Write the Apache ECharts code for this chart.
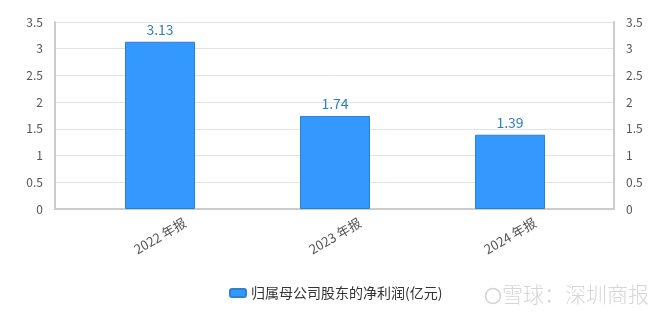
<!DOCTYPE html>
<html><head><meta charset="utf-8">
<script src="https://cdn.jsdelivr.net/npm/echarts@6/dist/echarts.min.js"></script>
<style>html,body{margin:0;padding:0;background:#fff}#c{width:668px;height:313px}</style>
</head><body><div id="c"></div>
<script>
var categories = ['2022 年报', '2023 年报', '2024 年报'];
var netProfit = [3.13, 1.74, 1.39];
var yTicks = [0, 0.5, 1, 1.5, 2, 2.5, 3, 3.5];
var seriesName = '归属母公司股东的净利润(亿元)';

var font = '"Microsoft YaHei","Noto Sans CJK SC",sans-serif';
var chart = echarts.init(document.getElementById('c'));
var yMin = yTicks[0], yMax = yTicks[yTicks.length - 1], yInt = yTicks[1] - yTicks[0];
var axisLbl = {color: '#555', fontSize: 12, fontFamily: font};
chart.setOption({
  animation: false,
  grid: [
    {left: 55, right: 54, top: 22, bottom: 104},
    {left: 72.5, right: 70.5, top: 22, bottom: 104}
  ],
  legend: {
    bottom: 8, left: 224, itemWidth: 16, itemHeight: 8, itemGap: 6,
    icon: 'roundRect',
    textStyle: {color: '#333', fontSize: 14, fontFamily: font},
    data: [seriesName]
  },
  xAxis: [
    {gridIndex: 0, type: 'category', data: categories,
     axisLine: {lineStyle: {color: '#ccc', width: 2}}, axisTick: {show: false},
     axisLabel: {show: false}, splitLine: {show: false}},
    {gridIndex: 1, type: 'category', data: categories,
     axisLine: {show: false}, axisTick: {show: false},
     axisLabel: {rotate: 30, align: 'center', verticalAlign: 'middle', margin: 27,
                 color: '#555', fontSize: 13, fontFamily: font}}
  ],
  yAxis: [
    {gridIndex: 0, type: 'value', min: yMin, max: yMax, interval: yInt, position: 'left',
     axisLine: {show: true, lineStyle: {color: '#ccc', width: 2}}, axisTick: {show: false},
     axisLabel: Object.assign({margin: 12}, axisLbl),
     splitLine: {lineStyle: {color: '#e3e3e3'}}},
    {gridIndex: 0, type: 'value', min: yMin, max: yMax, interval: yInt, position: 'right',
     axisLine: {show: true, lineStyle: {color: '#ccc', width: 2}}, axisTick: {show: false},
     axisLabel: Object.assign({margin: 12}, axisLbl),
     splitLine: {show: false}},
    {gridIndex: 1, type: 'value', min: yMin, max: yMax, interval: yInt, show: false,
     splitLine: {show: false}}
  ],
  series: [{
    name: seriesName, type: 'bar', xAxisIndex: 1, yAxisIndex: 2,
    data: netProfit, barWidth: 70,
    itemStyle: {color: '#3399ff', borderColor: '#2d7fd0', borderWidth: 1},
    label: {show: true, position: 'top', distance: 5, color: '#2f7fc0', fontSize: 14, fontFamily: font}
  }],
  graphic: [
    {type: 'circle', shape: {cx: 493, cy: 296, r: 7.5}, style: {fill: 'none', stroke: '#d2d2d2', lineWidth: 1.5}},
    {type: 'text', left: 502, top: 284, style: {text: '雪球：深圳商报', fill: '#d6d6d6', fontSize: 21, fontWeight: 300, fontFamily: font}}
  ]
});
</script></body></html>
